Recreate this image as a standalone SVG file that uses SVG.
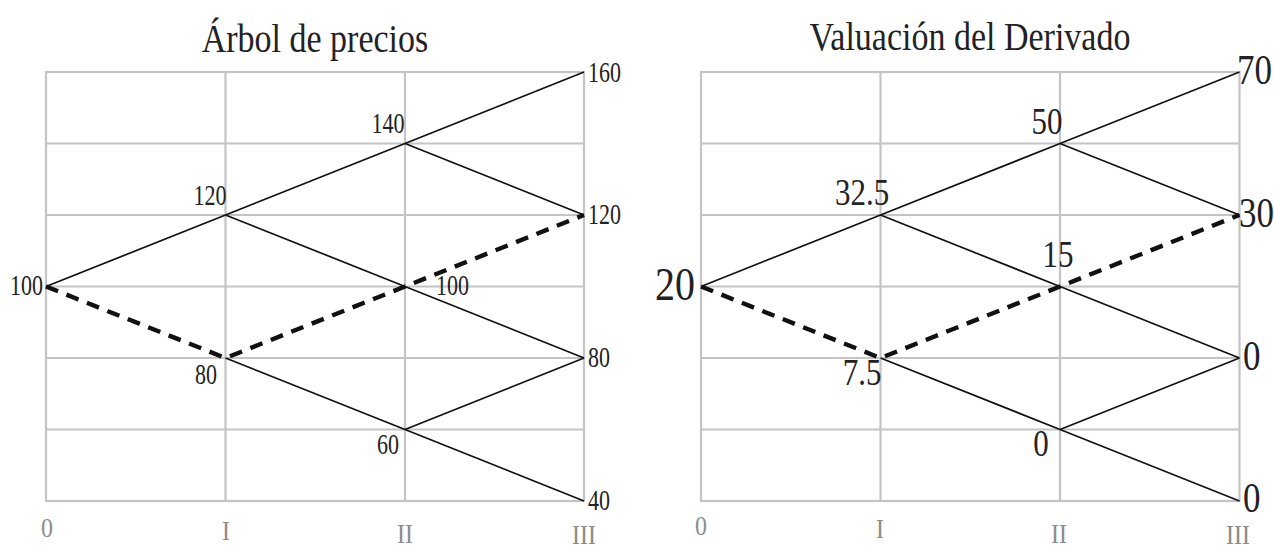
<svg xmlns="http://www.w3.org/2000/svg" width="1274" height="548" viewBox="0 0 1274 548">
<style>
.grid{stroke:#c4c4c4;stroke-width:2.2;fill:none}
.e{stroke:#111;stroke-width:1.7;fill:none}
.d{stroke:#111;stroke-width:4.4;fill:none;stroke-dasharray:13 9}
text{font-family:"Liberation Serif","DejaVu Serif",serif;fill:#222}
.t{font-size:34px}
.ax text{font-size:24px;fill:#8c8c8c}
.l text{font-size:22px}
.r{font-size:31px}
.b{font-size:35px}
.m{text-anchor:middle}
.n{text-anchor:end}
</style>
<rect width="1274" height="548" fill="#fff"/>
<g id="left-grid" class="grid">
<rect x="46" y="72" width="538" height="429"/>
<path d="M225.5 72V501M405 72V501M46 143.5H584M46 215H584M46 286.5H584M46 358H584M46 429.5H584"/>
</g>
<g id="right-grid" class="grid">
<rect x="701" y="72" width="538.5" height="429"/>
<path d="M880.5 72V501M1060 72V501M701 143.5H1239.5M701 215H1239.5M701 286.5H1239.5M701 358H1239.5M701 429.5H1239.5"/>
</g>
<g id="connectors">
<path class="e" d="M46 286.5L225.5 215L405 143.5L584 72M405 143.5L584 215M225.5 215L405 286.5L584 358M225.5 358L405 429.5L584 501M405 429.5L584 358"/>
<path class="d" d="M46 286.5L225.5 358L405 286.5L584 215"/>
<path class="e" d="M701 286.5L880.5 215L1060 143.5L1239.5 72M1060 143.5L1239.5 215M880.5 215L1060 286.5L1239.5 358M880.5 358L1060 429.5L1239.5 501M1060 429.5L1239.5 358"/>
<path class="d" d="M701 286.5L880.5 358L1060 286.5L1239.5 215"/>
</g>
<g id="titles">
<text class="t m" transform="translate(315 52) scale(1 1.15)">Árbol de precios</text>
<text class="t m" transform="translate(970 50) scale(1 1.15)">Valuación del Derivado</text>
</g>
<g id="left-nodes" class="l">
<g id="n-l-100a"><text class="n" transform="translate(43 295) scale(1 1.3)">100</text></g>
<g id="n-l-120a"><text class="m" transform="translate(210 205) scale(1 1.3)">120</text></g>
<g id="n-l-80a"><text class="m" transform="translate(206 384) scale(1 1.3)">80</text></g>
<g id="n-l-140"><text class="m" transform="translate(388 133) scale(1 1.3)">140</text></g>
<g id="n-l-100b"><text transform="translate(436 295) scale(1 1.3)">100</text></g>
<g id="n-l-60"><text class="m" transform="translate(388 454) scale(1 1.3)">60</text></g>
<g id="n-l-160"><text transform="translate(588 82) scale(1 1.3)">160</text></g>
<g id="n-l-120b"><text transform="translate(588 224) scale(1 1.3)">120</text></g>
<g id="n-l-80b"><text transform="translate(588 367) scale(1 1.3)">80</text></g>
<g id="n-l-40"><text transform="translate(588 510) scale(1 1.3)">40</text></g>
</g>
<g id="right-nodes">
<g id="n-r-20"><text class="n" style="font-size:40px" transform="translate(695 300) scale(1 1.15)">20</text></g>
<g id="n-r-32"><text class="r m" transform="translate(862 205) scale(1 1.22)">32.5</text></g>
<g id="n-r-7"><text class="r m" transform="translate(862 385) scale(1 1.22)">7.5</text></g>
<g id="n-r-50"><text class="r m" transform="translate(1047 134) scale(1 1.22)">50</text></g>
<g id="n-r-15"><text class="r m" transform="translate(1058 267) scale(1 1.22)">15</text></g>
<g id="n-r-0a"><text class="r m" transform="translate(1041 456) scale(1 1.22)">0</text></g>
<g id="n-r-70"><text class="b" transform="translate(1237 84) scale(1 1.2)">70</text></g>
<g id="n-r-30"><text class="b" transform="translate(1239 227) scale(1 1.2)">30</text></g>
<g id="n-r-0b"><text class="b" transform="translate(1243 370) scale(1 1.2)">0</text></g>
<g id="n-r-0c"><text class="b" transform="translate(1243 512) scale(1 1.2)">0</text></g>
</g>
<g id="axes" class="ax">
<text class="m" transform="translate(47 537) scale(1 1.15)">0</text>
<text class="m" transform="translate(226 540) scale(1 1.15)">I</text>
<text class="m" transform="translate(405 543) scale(1 1.15)">II</text>
<text class="m" transform="translate(584 544) scale(1 1.15)">III</text>
<text class="m" transform="translate(701 535) scale(1 1.15)">0</text>
<text class="m" transform="translate(880 538) scale(1 1.15)">I</text>
<text class="m" transform="translate(1059 543) scale(1 1.15)">II</text>
<text class="m" transform="translate(1238 544) scale(1 1.15)">III</text>
</g>
</svg>
